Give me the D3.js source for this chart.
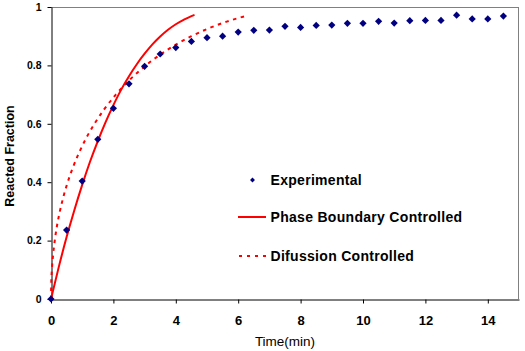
<!DOCTYPE html>
<html>
<head>
<meta charset="utf-8">
<script src="https://cdn.jsdelivr.net/npm/d3@7"></script>
<style>
  html, body { margin: 0; padding: 0; background: #fff; }
  svg { display: block; font-family: "Liberation Sans", Arial, sans-serif; }
</style>
</head>
<body>
<svg id="chart" width="525" height="351"></svg>
<script>
// Experimental data
const expTime = [0, 0.5, 1, 1.5, 2, 2.5, 3, 3.5, 4, 4.5, 5, 5.5, 6, 6.5, 7, 7.5, 8, 8.5, 9, 9.5, 10, 10.5, 11, 11.5, 12, 12.5, 13, 13.5, 14, 14.5];
const expFrac = [0, 0.236, 0.404, 0.547, 0.653, 0.737, 0.797, 0.839, 0.861, 0.882, 0.895, 0.900, 0.914, 0.920, 0.921, 0.934, 0.930, 0.937, 0.938, 0.944, 0.944, 0.951, 0.945, 0.953, 0.954, 0.954, 0.972, 0.959, 0.959, 0.969];

// Phase boundary controlled model curve
const pbTime = [0, 0.25, 0.5, 0.75, 1, 1.25, 1.5, 1.75, 2, 2.25, 2.5, 2.75, 3, 3.25, 3.5, 3.75, 4, 4.25, 4.5, 4.6];
const pbFrac = [0, 0.110, 0.212, 0.305, 0.391, 0.470, 0.541, 0.606, 0.664, 0.717, 0.763, 0.804, 0.840, 0.872, 0.899, 0.922, 0.941, 0.956, 0.969, 0.973];

// Diffusion controlled model curve
const dcTime = [0, 0.007, 0.028, 0.066, 0.120, 0.191, 0.284, 0.398, 0.535, 0.700, 0.895, 1.124, 1.393, 1.708, 2.078, 2.516, 3.041, 3.683, 4.501, 5.126, 5.633, 6.263];
const dcFrac = [0, 0.05, 0.10, 0.15, 0.20, 0.25, 0.30, 0.35, 0.40, 0.45, 0.50, 0.55, 0.60, 0.65, 0.70, 0.75, 0.80, 0.85, 0.90, 0.93, 0.95, 0.97];

const xTicks = [0, 2, 4, 6, 8, 10, 12, 14];
const yTicks = [0, 0.2, 0.4, 0.6, 0.8, 1];
const legendLabels = ["Experimental", "Phase Boundary Controlled", "Difussion Controlled"];

const svg = d3.select("#chart");
const mLeft = 51, mRight = 519, mTop = 7, mBottom = 299;

const x = d3.scaleLinear().domain([0, 15]).range([mLeft, mRight]);
const y = d3.scaleLinear().domain([0, 1]).range([mBottom, mTop]);

// Frame (top and right grey)
svg.append("line").attr("x1", mLeft).attr("x2", mRight).attr("y1", mTop + 0.5).attr("y2", mTop + 0.5)
  .attr("stroke", "#808080").attr("stroke-width", 1);
svg.append("line").attr("x1", mRight - 0.5).attr("x2", mRight - 0.5).attr("y1", mTop).attr("y2", mBottom)
  .attr("stroke", "#808080").attr("stroke-width", 1);

// Axes
const xAxis = d3.axisBottom(x).tickValues(xTicks).tickFormat(d3.format("d")).tickSizeInner(4).tickSizeOuter(0).tickPadding(12);
const gx = svg.append("g").attr("transform", `translate(0,${mBottom + 0.5})`).call(xAxis);
gx.select(".domain").attr("stroke", "#000");
gx.selectAll(".tick line").attr("stroke", "#000");
gx.selectAll("text").attr("font-size", 13).attr("font-weight", "bold").attr("fill", "#000")
  .attr("font-family", "Liberation Sans, Arial, sans-serif");

const yAxis = d3.axisLeft(y).tickValues(yTicks).tickFormat(d => d === 0 || d === 1 ? d3.format("d")(d) : d3.format(".1f")(d))
  .tickSizeInner(4).tickSizeOuter(0).tickPadding(6);
const gy = svg.append("g").attr("transform", `translate(${mLeft + 0.5},0)`).call(yAxis);
gy.select(".domain").attr("stroke", "#000");
gy.selectAll(".tick line").attr("stroke", "#000");
gy.selectAll("text").attr("font-size", 10.5).attr("font-weight", "bold").attr("fill", "#000")
  .attr("font-family", "Liberation Sans, Arial, sans-serif");

// Axis titles
svg.append("text").attr("x", (mLeft + mRight) / 2).attr("y", 346).attr("text-anchor", "middle")
  .attr("font-size", 13.5).attr("fill", "#000").text("Time(min)");
svg.append("text").attr("transform", `translate(13.5,${(mTop + mBottom) / 2 + 3}) rotate(-90)`)
  .attr("text-anchor", "middle").attr("font-size", 12.5).attr("font-weight", "bold").attr("fill", "#000")
  .text("Reacted Fraction");

// Curves
const line = d3.line().x(d => x(d[0])).y(d => y(d[1])).curve(d3.curveMonotoneX);
svg.append("path").datum(dcTime.map((t, i) => [t, dcFrac[i]]))
  .attr("d", line).attr("fill", "none").attr("stroke", "#ff0000").attr("stroke-width", 2)
  .attr("stroke-dasharray", "3.5,4.5");
svg.append("path").datum(pbTime.map((t, i) => [t, pbFrac[i]]))
  .attr("d", line).attr("fill", "none").attr("stroke", "#ff0000").attr("stroke-width", 2);

// Experimental markers
const diamond = d3.symbol().type(d3.symbolSquare).size(26);
svg.append("g").selectAll("path").data(expTime.map((t, i) => [t, expFrac[i]])).join("path")
  .attr("d", diamond)
  .attr("transform", d => `translate(${x(d[0])},${y(d[1])}) rotate(45)`)
  .attr("fill", "#000080");

// Legend
const lg = svg.append("g");
const legY = [180, 217, 256];
lg.append("path").attr("d", d3.symbol().type(d3.symbolSquare).size(12))
  .attr("transform", `translate(252.5,${legY[0]}) rotate(45)`).attr("fill", "#000080");
lg.append("line").attr("x1", 238).attr("x2", 266).attr("y1", legY[1]).attr("y2", legY[1])
  .attr("stroke", "#ff0000").attr("stroke-width", 2);
lg.append("line").attr("x1", 239).attr("x2", 266).attr("y1", legY[2]).attr("y2", legY[2])
  .attr("stroke", "#ff0000").attr("stroke-width", 2).attr("stroke-dasharray", "3,5");
legendLabels.forEach((s, i) => {
  lg.append("text").attr("x", 270.5).attr("y", legY[i] + 5)
    .attr("font-size", 14).attr("letter-spacing", 0.3).attr("font-weight", "bold").attr("fill", "#000").text(s);
});
</script>
</body>
</html>
